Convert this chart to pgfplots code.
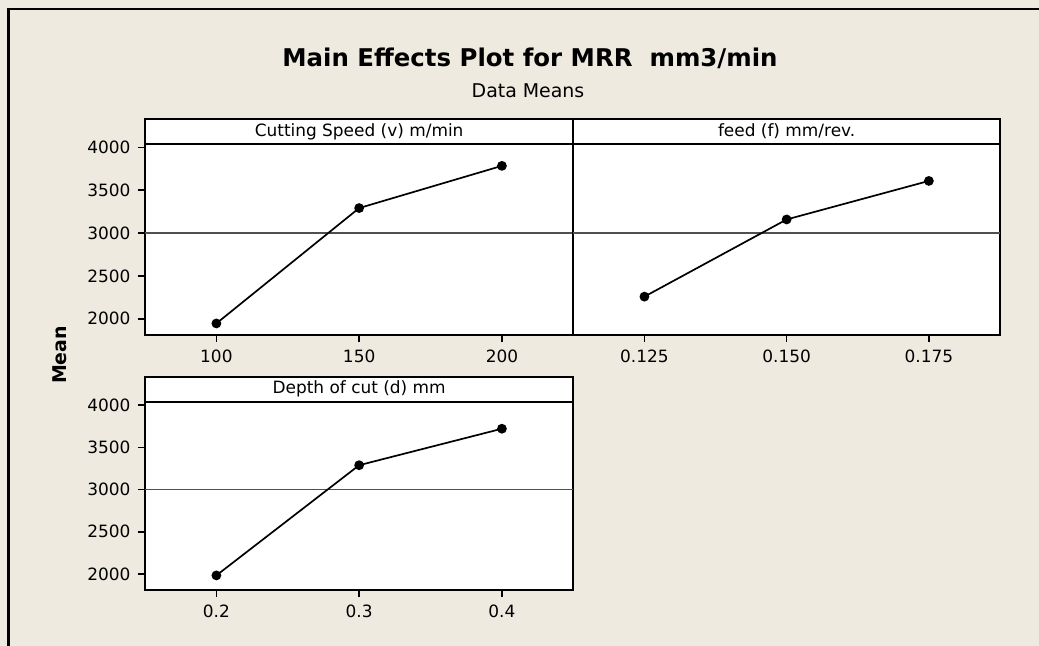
\documentclass[border=0pt]{standalone}
\usepackage{pgfplots}
\pgfplotsset{compat=1.18}
\usepackage{fontspec}
\setmainfont{DejaVu Sans}
\definecolor{bgbeige}{RGB}{238,234,224}
\definecolor{meangray}{RGB}{80,80,80}

\pgfplotsset{
  mepanel/.style={
    scale only axis, anchor=south west, clip=false,
    axis background/.style={fill=white},
    axis line style={line width=2bp},
    tick align=outside, tick pos=left, major tick length=7bp,
    tick style={black, line width=1.6bp},
    scaled ticks=false,
    ymin=1810, ymax=4040,
    ytick={2000,2500,3000,3500,4000},
    yticklabels={2000,2500,3000,3500,4000},
    tick label style={font=\fontsize{17}{19}\selectfont},
    xticklabel style={yshift=-4bp},
    yticklabel style={xshift=-4bp},
  },
  effect/.style={black, line width=1.7bp, mark=*, mark size=4bp},
  grand/.style={meangray, line width=1.6bp},
}
% header strip on top of a panel
\newcommand{\panelhead}[1]{%
  \draw[line width=2bp, fill=white] (rel axis cs:0,1) rectangle ([yshift=25bp]rel axis cs:1,1);
  \node[font=\fontsize{17}{19}\selectfont] at ([yshift=12.5bp]rel axis cs:0.5,1) {#1};
}

\begin{document}
\begin{tikzpicture}
\fill[bgbeige] (0,0) rectangle (1039bp,-646bp);
\useasboundingbox (0,0) rectangle (1039bp,-646bp);
\draw[line width=2.8bp] (8.7bp,-646bp) -- (8.7bp,-9bp) -- (1039bp,-9bp);

\node[font=\bfseries\fontsize{24.5}{28}\selectfont, anchor=base] at (530bp,-66bp) {Main Effects Plot for MRR\ \ mm3/min};
\node[font=\fontsize{19}{21}\selectfont, anchor=base] at (528bp,-97bp) {Data Means};
\node[font=\bfseries\fontsize{19}{21}\selectfont, rotate=90] at (60bp,-355bp) {Mean};

% Cutting speed
\begin{axis}[mepanel, at={(145bp,-335bp)}, width=428.3bp, height=191bp,
  xmin=75, xmax=225, xtick={100,150,200}, xticklabels={100,150,200}]
  \addplot[grand] coordinates {(75,3000) (225,3000)};
  \addplot[effect] coordinates {(100,1945) (150,3292) (200,3785)};
  \panelhead{Cutting Speed (v) m/min}
\end{axis}

% feed
\begin{axis}[mepanel, at={(573.3bp,-335bp)}, width=426.7bp, height=191bp,
  xmin=0.1125, xmax=0.1875, xtick={0.125,0.150,0.175}, xticklabels={0.125,0.150,0.175},
  ytick=\empty]
  \addplot[grand] coordinates {(0.1125,3000) (0.1875,3000)};
  \addplot[effect] coordinates {(0.125,2258) (0.150,3159) (0.175,3609)};
  \panelhead{feed (f) mm/rev.}
\end{axis}

% depth of cut
\begin{axis}[mepanel, at={(145bp,-590bp)}, width=428.3bp, height=188.3bp,
  xmin=0.15, xmax=0.45, xtick={0.2,0.3,0.4}, xticklabels={0.2,0.3,0.4}]
  \addplot[grand] coordinates {(0.15,3000) (0.45,3000)};
  \addplot[effect] coordinates {(0.2,1983) (0.3,3288) (0.4,3720)};
  \panelhead{Depth of cut (d) mm}
\end{axis}
\end{tikzpicture}
\end{document}
